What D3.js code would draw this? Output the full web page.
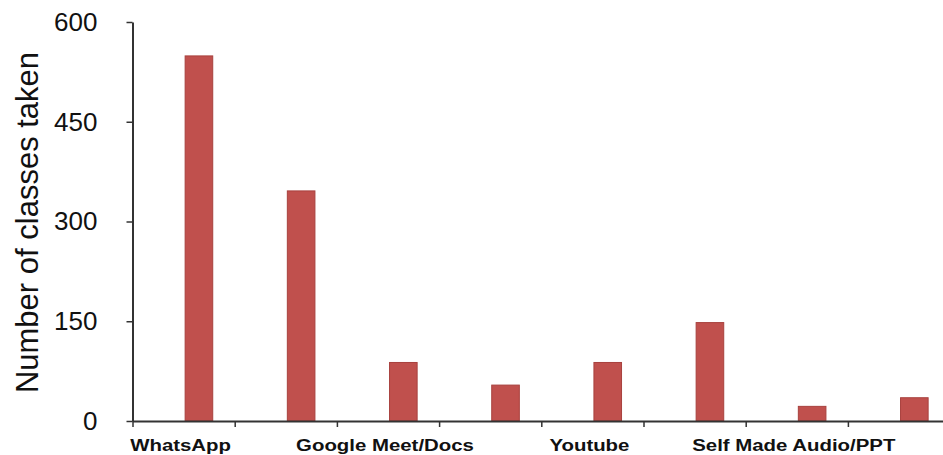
<!DOCTYPE html>
<html>
<head>
<meta charset="utf-8">
<script src="https://cdnjs.cloudflare.com/ajax/libs/d3/7.8.5/d3.min.js"></script>
<style>
  html, body { margin: 0; padding: 0; background: #fff; }
  svg { display: block; font-family: "Liberation Sans", Arial, sans-serif; }
</style>
</head>
<body>
<div id="chart"></div>
<script>
// data
var categories = ["WhatsApp", "", "Google Meet/Docs", "", "Youtube", "", "Self Made Audio/PPT", ""];
var classes    = [549, 346, 88, 54, 88, 148, 22, 35];
var yTicks     = [0, 150, 300, 450, 600];
var yTitle     = "Number of classes taken";

var width = 943, height = 455;
var plotLeft = 132.5, plotTop = 22, plotBottom = 421;
var bandW = 102.2;

var svg = d3.select("#chart").append("svg")
    .attr("width", width)
    .attr("height", height);

svg.append("rect").attr("width", width).attr("height", height).attr("fill", "#fff");

var xScale = d3.scaleBand()
    .domain(d3.range(categories.length))
    .range([plotLeft, plotLeft + bandW * categories.length])
    .padding(0);

var xEdge = d3.scaleLinear()
    .domain([0, categories.length])
    .range([plotLeft, plotLeft + bandW * categories.length]);

var yScale = d3.scaleLinear()
    .domain([0, 600])
    .range([plotBottom, plotTop]);

// bars
svg.selectAll("rect.bar")
   .data(classes)
   .enter()
   .append("rect")
   .attr("class", "bar")
   .attr("x", function(d, i) { return xScale(i) + xScale.bandwidth() * 0.515; })
   .attr("y", function(d) { return yScale(d); })
   .attr("width", xScale.bandwidth() * 0.27)
   .attr("height", function(d) { return plotBottom - yScale(d); })
   .attr("fill", "#c0504d")
   .attr("stroke", "#a8413e")
   .attr("stroke-width", 1);

// y axis
var yAxis = svg.append("g")
    .attr("transform", "translate(" + plotLeft + ",0)")
    .call(d3.axisLeft(yScale).tickValues(yTicks).tickSize(6).tickSizeOuter(0).tickPadding(29));
yAxis.select(".domain").attr("stroke", "#333").attr("stroke-width", 2);
yAxis.selectAll(".tick line").attr("stroke", "#333").attr("stroke-width", 1.5);
yAxis.selectAll(".tick text")
     .attr("font-size", "26px")
     .attr("fill", "#111")
     .style("font-family", "'Liberation Sans', Arial, sans-serif");

// x axis: ticks between categories
var xAxis = svg.append("g")
    .attr("transform", "translate(0," + plotBottom + ")")
    .call(d3.axisBottom(xEdge).tickValues(d3.range(0, categories.length + 1)).tickSize(6).tickSizeOuter(0).tickFormat(""));
xAxis.select(".domain").attr("stroke", "#333").attr("stroke-width", 2);
xAxis.selectAll(".tick line").attr("stroke", "#333").attr("stroke-width", 1.5);

// category labels (every other)
svg.selectAll("text.cat")
   .data(categories)
   .enter()
   .append("text")
   .attr("class", "cat")
   .attr("transform", function(d, i) {
       return "translate(" + (xScale(i) + xScale.bandwidth() / 2 - 3) + ",451) scale(1.2,1)";
   })
   .attr("text-anchor", "middle")
   .attr("font-size", "17px")
   .attr("font-weight", "bold")
   .attr("fill", "#111")
   .text(function(d) { return d; });

// y title
svg.append("text")
   .attr("transform", "translate(37.5," + ((plotTop + plotBottom) / 2 + 1) + ") rotate(-90)")
   .attr("text-anchor", "middle")
   .attr("font-size", "31px")
   .attr("fill", "#111")
   .text(yTitle);
</script>
</body>
</html>
